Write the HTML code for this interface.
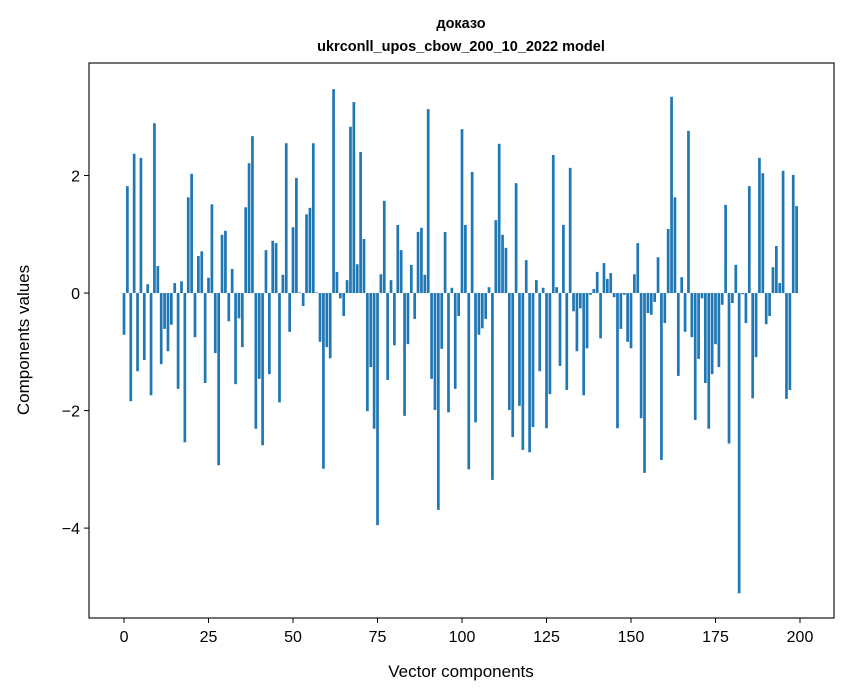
<!DOCTYPE html>
<html><head><meta charset="utf-8"><style>
body{margin:0;background:#fff;}
svg{display:block;font-family:"Liberation Sans","DejaVu Sans",sans-serif;}
</style></head><body>
<svg id="chart" width="847" height="696" viewBox="0 0 847 696">
<rect width="847" height="696" fill="#fff"/>
<text x="461" y="28" text-anchor="middle" font-size="14.5" font-weight="bold">доказо</text>
<text x="461" y="51" text-anchor="middle" font-size="14.5" font-weight="bold">ukrconll_upos_cbow_200_10_2022 model</text>
<g id="bars"></g>
<g id="xticks"></g>
<g id="yticks"></g>
<rect x="89" y="63" width="745" height="555" fill="none" stroke="#000" stroke-width="1.1"/>
<text x="461" y="677" text-anchor="middle" font-size="17">Vector components</text>
<text transform="translate(29,340) rotate(-90)" text-anchor="middle" font-size="17">Components values</text>
</svg>
<script>
const values = [-0.71,1.82,-1.84,2.37,-1.33,2.30,-1.14,0.15,-1.74,2.89,0.46,-1.21,-0.61,-0.99,-0.54,0.17,-1.63,0.20,-2.54,1.63,
2.03,-0.75,0.63,0.71,-1.53,0.26,1.51,-1.02,-2.93,0.99,1.06,-0.48,0.41,-1.55,-0.43,-0.92,1.46,2.21,2.67,-2.31,
-1.46,-2.59,0.73,-1.38,0.89,0.85,-1.86,0.31,2.55,-0.66,1.12,1.96,0.01,-0.22,1.34,1.45,2.55,0.01,-0.83,-2.99,
-0.92,-1.11,3.47,0.36,-0.09,-0.39,0.22,2.83,3.25,0.49,2.40,0.92,-2.01,-1.26,-2.31,-3.95,0.32,1.57,-1.48,0.22,
-0.89,1.16,0.73,-2.09,-0.87,0.48,-0.44,1.04,1.11,0.31,3.13,-1.46,-1.99,-3.69,-0.95,1.04,-2.03,0.09,-1.63,-0.39,
2.79,1.16,-3.00,2.06,-2.20,-0.71,-0.60,-0.44,0.10,-3.18,1.24,2.54,0.99,0.77,-1.99,-2.45,1.87,-1.92,-2.67,0.56,
-2.71,-2.28,0.22,-1.33,0.09,-2.30,-1.72,2.35,0.10,-1.24,1.16,-1.65,2.13,-0.31,-0.99,-0.26,-1.74,-0.94,-0.03,0.07,
0.36,-0.77,0.51,0.24,0.34,-0.07,-2.30,-0.61,-0.03,-0.83,-0.94,0.32,0.85,-2.13,-3.06,-0.34,-0.37,-0.15,0.61,-2.84,
-0.51,1.09,3.34,1.63,-1.41,0.27,-0.66,2.76,-0.75,-2.16,-1.12,-0.09,-1.53,-2.31,-1.38,-0.87,-1.26,-0.20,1.50,-2.56,
-0.17,0.48,-5.11,-0.02,-0.51,1.82,-1.79,-1.09,2.30,2.04,-0.53,-0.39,0.44,0.80,0.17,2.08,-1.80,-1.65,2.01,1.48];
const xTickLabels = [0,25,50,75,100,125,150,175,200];
const yTickLabels = [-4,-2,0,2];

const NS="http://www.w3.org/2000/svg";
const X0=89,X1=834,Y0=63,Y1=618;
const xmin=-10.36,xmax=210.06,ymin=-5.53,ymax=3.915;
function xs(v){return X0+(v-xmin)/(xmax-xmin)*(X1-X0);}
function ys(v){return Y1-(v-ymin)/(ymax-ymin)*(Y1-Y0);}
const bars=document.getElementById('bars');
values.forEach((v,i)=>{
  const r=document.createElementNS(NS,'rect');
  const xl=xs(i-0.4), xr=xs(i+0.4);
  const y=Math.min(ys(v),ys(0)), h=Math.abs(ys(v)-ys(0));
  r.setAttribute('x',xl);r.setAttribute('width',xr-xl);
  r.setAttribute('y',y);r.setAttribute('height',Math.max(h,0.3));
  r.setAttribute('fill','#1f77b4');
  
  
  bars.appendChild(r);
});
const xg=document.getElementById('xticks');
xTickLabels.forEach(t=>{
  const l=document.createElementNS(NS,'line');
  l.setAttribute('x1',xs(t));l.setAttribute('x2',xs(t));l.setAttribute('y1',Y1);l.setAttribute('y2',Y1+5);
  l.setAttribute('stroke','#000');
  
  
  xg.appendChild(l);
  const tx=document.createElementNS(NS,'text');
  tx.setAttribute('x',xs(t));tx.setAttribute('y',Y1+24);tx.setAttribute('text-anchor','middle');tx.setAttribute('font-size','16');
  tx.textContent=t;
  
  
  xg.appendChild(tx);
});
const yg=document.getElementById('yticks');
yTickLabels.forEach(t=>{
  const l=document.createElementNS(NS,'line');
  l.setAttribute('x1',X0-5);l.setAttribute('x2',X0);l.setAttribute('y1',ys(t));l.setAttribute('y2',ys(t));
  l.setAttribute('stroke','#000');
  
  
  yg.appendChild(l);
  const tx=document.createElementNS(NS,'text');
  tx.setAttribute('x',X0-9);tx.setAttribute('y',ys(t)+6);tx.setAttribute('text-anchor','end');tx.setAttribute('font-size','16');
  tx.textContent=t<0?'\u2212'+Math.abs(t):String(t);
  
  
  yg.appendChild(tx);
});
</script>
</body></html>
